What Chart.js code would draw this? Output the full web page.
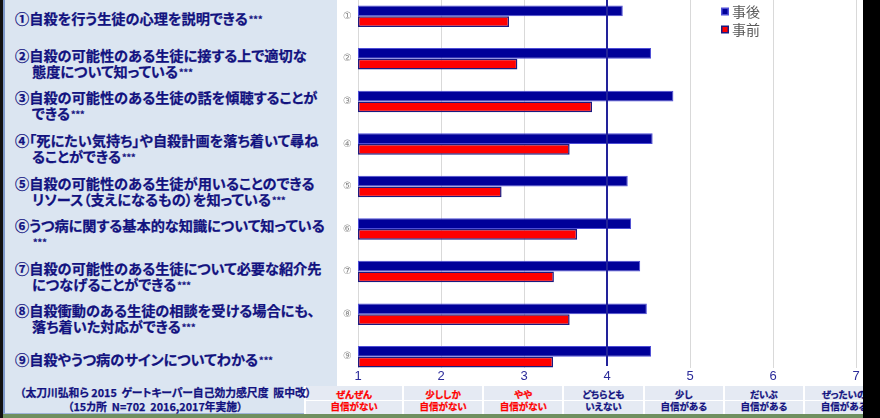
<!DOCTYPE html>
<html lang="ja">
<head>
<meta charset="utf-8">
<title>ゲートキーパー自己効力感 事前・事後</title>
<script src="https://cdn.jsdelivr.net/npm/chart.js@4.4.0/dist/chart.umd.min.js"></script>
<style>
    html, body { margin: 0; padding: 0; }
    body {
        width: 880px; height: 418px; position: relative; overflow: hidden;
        background: #fff;
        font-family: 'Noto Sans CJK JP', 'Noto Sans', sans-serif;
    }
    #panel {
        position: absolute; left: 3px; top: 0; width: 332px; height: 413px;
        background: #dbe5f1; border-left: 2px solid #7d98c9; border-bottom: 1px solid #9fb4d8;
    }
    #chart-wrap { position: absolute; left: 0; top: -17px; width: 863px; height: 435px; }
    .item-line, .source-line, .cell-text {
        position: absolute; white-space: pre; font-weight: bold;
        font-feature-settings: "palt"; color: #12127f;
        -webkit-text-stroke: 0.25px currentColor;
    }
    .item-line { font-size: 14.2px; line-height: 16px; }
    .sig { font-size: 9px; vertical-align: 1px; margin-left: 1px; }
    .source-line { font-size: 10.8px; line-height: 14px; }
    .cell {
        position: absolute; top: 386px; height: 28px; background: #e5eaf3;
        border-left: 2px solid #fff; box-sizing: border-box;
    }
    .cell-mid { position: absolute; left: 0; right: 0; top: 14px; height: 1px; background: #fff; }
    .cell-text {
        left: 0; right: 0; top: 3px; text-align: center;
        font-size: 9.5px; line-height: 11.5px;
    }
    #edge-left { position: absolute; left: 0; top: 0; width: 3px; height: 418px; background: #111; }
    #edge-right { position: absolute; left: 863px; top: 0; width: 17px; height: 418px; background: #000; }
    #edge-bottom { position: absolute; left: 3px; top: 414px; width: 860px; height: 4px; background: #6f8f5f; }
</style>
</head>
<body>
<div id="panel"></div>
<div id="scale-table"></div>
<div id="sources"></div>
<div id="item-texts"></div>
<div id="chart-wrap"><canvas id="score-chart"></canvas></div>
<div id="edge-left"></div>
<div id="edge-right"></div>
<div id="edge-bottom"></div>

<script>
// 設問（縦軸）
const itemTicks = ['①', '②', '③', '④', '⑤', '⑥', '⑦', '⑧', '⑨'];
const itemTexts = [
    ['①自殺を行う生徒の心理を説明できる'],
    ['②自殺の可能性のある生徒に接する上で適切な', '態度について知っている'],
    ['③自殺の可能性のある生徒の話を傾聴することが', 'できる'],
    ['④「死にたい気持ち」や自殺計画を落ち着いて尋ね', 'ることができる'],
    ['⑤自殺の可能性のある生徒が用いることのできる', 'リソース（支えになるもの）を知っている'],
    ['⑥うつ病に関する基本的な知識について知っている', ''],
    ['⑦自殺の可能性のある生徒について必要な紹介先', 'につなげることができる'],
    ['⑧自殺衝動のある生徒の相談を受ける場合にも、', '落ち着いた対応ができる'],
    ['⑨自殺やうつ病のサインについてわかる']
];
const significance = '***';

// 平均得点
const seriesNames = ['事後', '事前'];
const afterScores = [4.19, 4.53, 4.80, 4.55, 4.25, 4.29, 4.40, 4.48, 4.53];
const beforeScores = [2.82, 2.92, 3.82, 3.55, 2.73, 3.64, 3.36, 3.55, 3.35];

// 横軸（7件法）
const scaleMin = 1;
const scaleMax = 7;
const scaleMid = 4;
const scaleWordsTop = ['ぜんぜん', '少ししか', 'やや', 'どちらとも', '少し', 'だいぶ', 'ぜったいの'];
const scaleWordsBottom = ['自信がない', '自信がない', '自信がない', 'いえない', '自信がある', '自信がある', '自信がある'];

const sourceLines = [
    '（太刀川弘和ら 2015  ゲートキーパー自己効力感尺度  阪中改）',
    '（15カ所  N=702  2016,2017年実施）'
];

const colors = {
    after: '#000099',
    afterBorder: '#4d4dd6',
    before: '#ff0000',
    beforeBorder: '#1a1a80',
    grid: '#d9d9d9',
    midLine: '#22229a',
    tick: '#2b2b9a',
    itemTick: '#8c8c8c',
    legend: '#595959',
    negative: '#ff0000',
    positive: '#12127f'
};

const wrapTop = -17;

// 出典
sourceLines.forEach((text, i) => {
    const el = document.createElement('div');
    el.className = 'source-line';
    el.style.left = (i === 0 ? 20 : 68) + 'px';
    el.style.top = (385 + i * 14) + 'px';
    el.textContent = text;
    document.getElementById('sources').appendChild(el);
});

// 回答選択肢の表
scaleWordsTop.forEach((word, i) => {
    const cell = document.createElement('div');
    cell.className = 'cell';
    const left = i === 0 ? 304 : 402 + (i - 1) * 80.2;
    cell.style.left = left + 'px';
    cell.style.width = (i === 0 ? 98 : 80.2) + 'px';
    cell.innerHTML = '<div class="cell-mid"></div>';
    const txt = document.createElement('div');
    txt.className = 'cell-text';
    txt.style.color = i < 3 ? colors.negative : colors.positive;
    txt.textContent = word + '\n' + scaleWordsBottom[i];
    cell.appendChild(txt);
    document.getElementById('scale-table').appendChild(cell);
});

// 設問文を行の位置に合わせて配置
function placeItemTexts(chart) {
    const yScale = chart.scales.y;
    const box = document.getElementById('item-texts');
    box.innerHTML = '';
    itemTexts.forEach((lines, i) => {
        const centre = yScale.getPixelForValue(i) + wrapTop;
        const first = lines.length > 1 ? centre - 4 : centre + 2;
        lines.forEach((line, j) => {
            const el = document.createElement('div');
            el.className = 'item-line';
            el.style.left = (j === 0 ? 15 : 32) + 'px';
            el.style.top = (first + j * 16 - 8) + 'px';
            el.textContent = line;
            if (j === lines.length - 1) {
                const sig = document.createElement('span');
                sig.className = 'sig';
                sig.textContent = significance;
                el.appendChild(sig);
            }
            box.appendChild(el);
        });
    });
}

// 縦の目盛線と中央（4）の線
const gridLines = {
    id: 'gridLines',
    beforeDatasetsDraw(chart) {
        const { ctx, chartArea, scales: { x } } = chart;
        ctx.save();
        ctx.strokeStyle = colors.grid;
        ctx.lineWidth = 1;
        for (let v = scaleMin; v <= scaleMax; v++) {
            if (v === scaleMid) continue;
            const px = Math.round(x.getPixelForValue(v)) + 0.5;
            ctx.beginPath();
            ctx.moveTo(px, chartArea.top);
            ctx.lineTo(px, chartArea.bottom - 10);
            ctx.stroke();
        }
        ctx.restore();
    },
    afterDatasetsDraw(chart) {
        const { ctx, chartArea, scales: { x } } = chart;
        const px = x.getPixelForValue(scaleMid);
        ctx.save();
        ctx.strokeStyle = colors.midLine;
        ctx.lineWidth = 2;
        ctx.beginPath();
        ctx.moveTo(px, chartArea.top);
        ctx.lineTo(px, chartArea.bottom - 12);
        ctx.stroke();
        ctx.restore();
    }
};

// 右上の凡例
const floatingLegend = {
    id: 'floatingLegend',
    afterDraw(chart) {
        const { ctx, chartArea } = chart;
        const x0 = chartArea.right - 135;
        ctx.save();
        ctx.font = '14px "Noto Sans CJK JP"';
        ctx.textBaseline = 'middle';
        chart.data.datasets.forEach((ds, i) => {
            const cy = chartArea.top + 16.5 + i * 18;
            ctx.fillStyle = ds.borderColor;
            ctx.fillRect(x0, cy - 4, 8, 8);
            ctx.fillStyle = ds.backgroundColor;
            ctx.fillRect(x0 + 1.5, cy - 2.5, 5, 5);
            ctx.fillStyle = colors.legend;
            ctx.fillText(ds.label, x0 + 11, cy);
        });
        ctx.restore();
    }
};

const scoreChart = new Chart(document.getElementById('score-chart'), {
    type: 'bar',
    data: {
        labels: itemTicks,
        datasets: [
            {
                label: seriesNames[0],
                data: afterScores,
                backgroundColor: colors.after,
                borderColor: colors.afterBorder,
                borderWidth: 1,
                borderSkipped: false,
                base: scaleMin
            },
            {
                label: seriesNames[1],
                data: beforeScores,
                backgroundColor: colors.before,
                borderColor: colors.beforeBorder,
                borderWidth: 1.5,
                borderSkipped: false,
                base: scaleMin
            }
        ]
    },
    options: {
        indexAxis: 'y',
        responsive: true,
        maintainAspectRatio: false,
        animation: false,
        layout: { padding: { top: 0, left: 0, right: 7, bottom: 0 } },
        datasets: {
            bar: { categoryPercentage: 0.505, barPercentage: 1.0 }
        },
        plugins: {
            legend: { display: false },
            tooltip: { enabled: false }
        },
        scales: {
            x: {
                min: scaleMin,
                max: scaleMax,
                afterFit: scale => { scale.height = 40; },
                grid: { display: false, drawTicks: false },
                border: { display: false },
                ticks: {
                    stepSize: 1,
                    mirror: true,
                    padding: -6,
                    color: colors.tick,
                    font: { family: 'Liberation Sans', size: 13 }
                }
            },
            y: {
                afterFit: scale => { scale.width = 358; },
                grid: { display: false, drawTicks: false },
                border: { display: false },
                ticks: {
                    padding: 6,
                    color: colors.itemTick,
                    font: { family: 'DejaVu Sans', size: 10 }
                }
            }
        }
    },
    plugins: [gridLines, floatingLegend]
});

placeItemTexts(scoreChart);
</script>
</body>
</html>
